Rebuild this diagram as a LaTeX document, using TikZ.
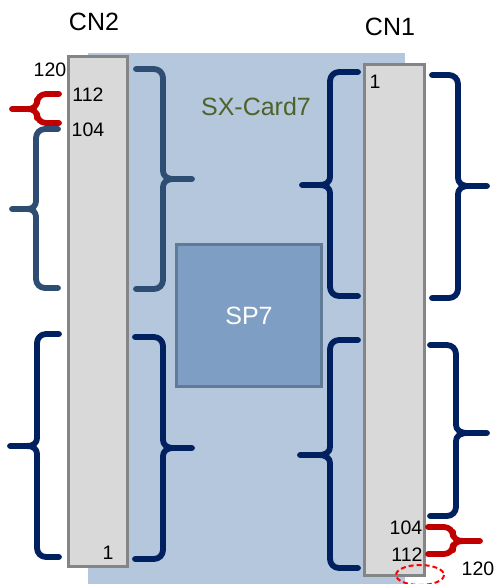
\documentclass[tikz,border=0pt]{standalone}
\usepackage{fontspec}
\setmainfont{Liberation Sans}
\definecolor{bgblue}{HTML}{B4C7DC}
\definecolor{bargray}{HTML}{D9D9D9}
\definecolor{barborder}{HTML}{858585}
\definecolor{spfill}{HTML}{7F9EC4}
\definecolor{spborder}{HTML}{5F7B98}
\definecolor{slate}{HTML}{2E4D72}
\definecolor{navy}{HTML}{002060}
\definecolor{bracered}{HTML}{C00000}
\definecolor{olive}{HTML}{4F6228}
% #1 end x, #2 vertical x, #3 tip x, #4 top y, #5 mid y, #6 bottom y, #7 colour
\newcommand\mybrace[7]{%
  \draw[#7, line width=5.8, line cap=round, line join=round, rounded corners=9]
    (#1,#4) -- (#2,#4) -- (#2,#5-9);
  \draw[#7, line width=5.8, line cap=round, line join=round]
    (#2,#5-9) .. controls (#2,#5-2) and ({#2+0.15*(#3-#2)},#5) .. ({#2+0.4*(#3-#2)},#5) -- (#3,#5);
  \draw[#7, line width=5.8, line cap=round, line join=round]
    (#2,#5+9) .. controls (#2,#5+2) and ({#2+0.15*(#3-#2)},#5) .. ({#2+0.4*(#3-#2)},#5);
  \draw[#7, line width=5.8, line cap=round, line join=round, rounded corners=9]
    (#2,#5+9) -- (#2,#6) -- (#1,#6);
}
\begin{document}
\begin{tikzpicture}[x=1pt,y=-1pt,
  bar/.style={draw=barborder, fill=bargray, line width=3, inner sep=0pt},
  num/.style={font=\fontsize{19.5}{19.5}\selectfont, inner sep=0pt, text=black},
  title/.style={font=\fontsize{25}{25}\selectfont, inner sep=0pt}]
\useasboundingbox (0,0) rectangle (499,584);
\fill[bgblue] (88,53) rectangle (405,584);
\node[bar, minimum width=59, minimum height=510] (cn2) at (98,311.5) {};
\node[bar, minimum width=60, minimum height=511] (cn1) at (394.5,320) {};
\node[draw=spborder, fill=spfill, line width=3, minimum width=145, minimum height=142, inner sep=0pt,
  font=\fontsize{25}{25}\selectfont, text=white] (sp7) at (249,315.5) {SP7};
\node[title] (cn2l) at (94,22) {CN2};
\node[title] (cn1l) at (390,27) {CN1};
\node[title, text=olive] (card) at (256,107) {SX-Card7};
\node[num] (n120a) at (50,70) {120};
\node[num] (n112a) at (88,95) {112};
\node[num] (n104a) at (88,130) {104};
\node[num] (n1a) at (108,553) {1};
\node[num] (n1b) at (375,82) {1};
\node[num] (n104b) at (406,528) {104};
\node[num] (n112b) at (407,555) {112};
\node[num] (n120b) at (478,569) {120};
\draw[red, dash pattern=on 5pt off 3pt, line width=2] (420,575) ellipse [x radius=24, y radius=10];
% CN2 braces
\mybrace{136}{163}{192}{69}{179}{289}{slate}
\mybrace{58}{36}{12}{129}{209}{288}{slate}
\mybrace{59}{37}{12}{94}{109}{123}{bracered}
\mybrace{59}{37}{10}{334}{446}{557}{navy}
\mybrace{135}{163}{192}{337}{448}{559}{navy}
% CN1 braces
\mybrace{358}{330}{302}{72}{185}{296}{navy}
\mybrace{432}{458}{487}{75}{186}{298}{navy}
\mybrace{358}{330}{300}{340}{455}{568}{navy}
\mybrace{430}{456}{487}{345}{433}{516}{navy}
\mybrace{428}{453}{480}{527}{541}{554}{bracered}
\end{tikzpicture}
\end{document}
